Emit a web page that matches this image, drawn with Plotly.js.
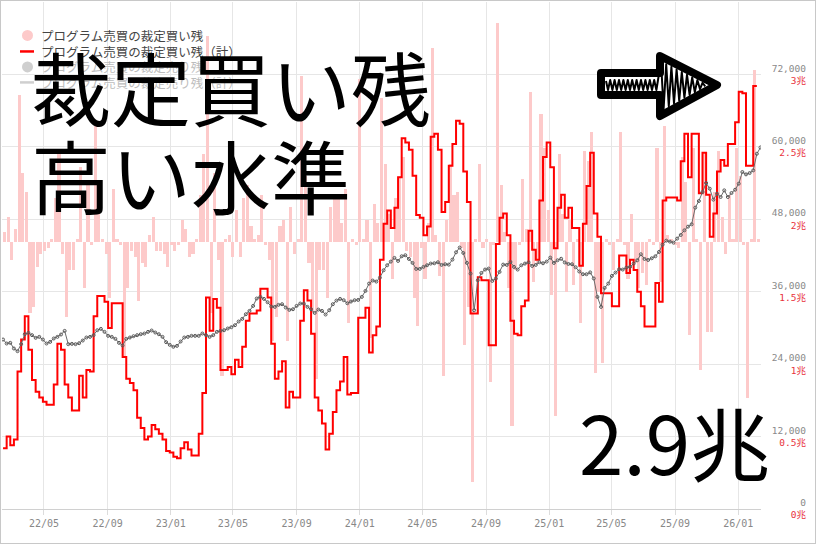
<!DOCTYPE html>
<html>
<head>
<meta charset="utf-8">
<script src="https://cdn.plot.ly/plotly-3.0.1.min.js"></script>
<style>
  html, body { margin: 0; padding: 0; background: #fff; }
  #wrap { position: relative; width: 816px; height: 544px; overflow: hidden; }
  #chart { position: absolute; left: 0; top: 0; width: 816px; height: 544px; }
  #arrow { position: absolute; left: 0; top: 0; pointer-events: none; }
  #frame { position: absolute; left: 0; top: 0; width: 816px; height: 544px;
           box-sizing: border-box; border: 1px solid #c8c8c8; pointer-events: none; }
</style>
</head>
<body>
<div id="wrap">
  <div id="chart"></div>
  <svg id="arrow" width="816" height="544"></svg>
  <div id="frame"></div>
</div>
<script>
// Weekly arbitrage buy balance (trillion yen), one value per week from 2022-02-11
const firstWeek = '2022-02-11';
const buyTotal = [
  0.42,0.50,0.44,0.48,0.95,1.17,1.33,1.10,0.89,0.81,
  0.77,0.74,0.72,0.72,0.86,1.14,1.10,0.86,0.77,0.68,
  0.68,0.92,0.77,0.96,0.95,1.33,1.47,1.47,1.43,1.25,
  1.42,1.42,1.42,1.05,0.90,0.87,0.82,0.63,0.56,0.48,
  0.50,0.58,0.55,0.52,0.48,0.40,0.39,0.36,0.35,0.42,
  0.46,0.41,0.37,0.37,0.52,0.80,1.46,1.23,1.45,1.39,
  0.96,0.96,0.98,0.93,1.03,0.98,1.12,1.30,1.35,1.35,
  1.37,1.52,1.52,1.46,1.14,0.90,0.95,1.02,0.70,0.81,
  0.77,0.77,1.30,1.51,1.44,1.21,0.77,0.68,0.59,0.41,
  0.52,0.67,0.82,0.88,1.05,0.79,0.80,0.80,1.32,1.32,
  1.39,1.08,1.20,1.26,1.72,1.97,2.06,1.94,2.08,2.29,
  2.56,2.53,2.48,2.30,2.03,2.01,1.89,1.95,2.57,2.59,
  2.48,2.05,2.12,2.37,2.52,2.68,2.66,2.33,2.12,1.35,
  1.35,1.60,1.58,1.58,1.13,1.13,1.83,2.01,2.04,1.89,
  1.30,1.21,1.20,1.40,1.44,1.92,1.79,1.72,2.13,2.43,
  2.53,2.36,1.80,2.08,2.17,2.01,2.08,1.94,1.94,1.68,
  1.97,2.23,2.46,2.04,1.88,1.49,1.49,1.49,1.40,1.40,
  1.75,1.75,1.63,1.72,1.65,1.50,1.40,1.26,1.26,1.26,
  1.56,1.43,2.13,2.15,2.15,2.15,2.13,2.40,2.59,2.29,
  2.59,2.59,2.18,2.46,2.17,1.88,2.04,2.33,2.41,2.37,
  2.52,2.52,2.67,2.88,2.87,2.37,2.37,2.92,2.92
];

// Week-on-week change of the buy balance (trillion yen)
const buyChange = [
  0.03,0.08,-0.06,0.04,0.47,0.22,0.16,-0.23,-0.21,-0.08,
  -0.04,-0.03,-0.02,0.01,0.14,0.28,-0.04,-0.24,-0.09,-0.09,
  0.01,0.24,-0.15,0.19,-0.01,0.38,0.14,0.01,-0.04,-0.18,
  0.17,0.01,-0.01,-0.37,-0.15,-0.03,-0.05,-0.19,-0.07,-0.08,
  0.02,0.08,-0.03,-0.03,-0.04,-0.08,-0.01,-0.03,-0.01,0.07,
  0.04,-0.05,-0.04,0.01,0.15,0.28,0.66,-0.23,0.22,-0.06,
  -0.43,0.01,0.02,-0.05,0.10,-0.05,0.14,0.18,0.05,0.01,
  0.02,0.15,-0.01,-0.06,-0.32,-0.24,0.05,0.07,-0.32,0.11,
  -0.04,0.01,0.53,0.21,-0.07,-0.23,-0.44,-0.09,-0.09,-0.18,
  0.11,0.15,0.15,0.06,0.17,-0.26,0.01,-0.01,0.52,0.01,
  0.07,-0.31,0.12,0.06,0.46,0.25,0.09,-0.12,0.14,0.21,
  0.27,-0.03,-0.05,-0.18,-0.27,-0.02,-0.12,0.06,0.62,0.02,
  -0.11,-0.43,0.07,0.25,0.15,0.16,-0.02,-0.33,-0.21,-0.77,
  0.01,0.25,-0.02,0.01,-0.45,-0.01,0.70,0.18,0.03,-0.15,
  -0.59,-0.09,-0.01,0.20,0.04,0.48,-0.13,-0.07,0.41,0.30,
  0.10,-0.17,-0.56,0.28,0.09,-0.16,0.07,-0.14,0.01,-0.26,
  0.29,0.26,0.35,-0.42,-0.16,-0.39,0.01,-0.01,-0.09,0.01,
  0.35,-0.01,-0.12,0.09,-0.07,-0.15,-0.10,-0.14,0.01,-0.01,
  0.30,-0.13,0.37,0.02,0.01,-0.01,-0.02,0.27,0.19,-0.30,
  0.30,0.01,-0.41,0.28,-0.29,-0.29,0.16,0.29,0.08,-0.04,
  0.15,0.01,0.30,0.21,-0.01,-0.50,0.01,0.55,0.01
];

// Nikkei 225, weekly closes (yen)
const nikkei = [
  28080,27420,27530,26590,26150,27310,28960,29180,28800,28360,
  28520,28080,27420,27690,28250,28520,28910,29510,27310,27360,
  27310,27470,27910,28410,28520,28800,29620,29840,29350,28690,
  28520,28190,27530,27090,28190,28410,28630,28800,28960,29070,
  29350,29570,29240,28960,28520,27640,27200,26870,27030,27750,
  28410,28520,28690,28690,28690,29070,28800,28520,28800,29350,
  29510,29620,29900,30120,30450,31060,31500,32270,32820,33650,
  34870,35140,34810,34260,33540,33490,33820,33930,33380,32990,
  33100,33650,34040,34040,33490,33100,32490,33040,32820,32220,
  32930,33930,34530,34810,34590,34090,34370,34590,34640,35140,
  36130,37350,37850,37680,38340,39550,40380,40990,41600,41100,
  41870,42040,41430,40770,39780,39780,40110,40380,40660,40710,
  40880,40440,40550,40490,41320,42530,43310,42420,40770,39000,
  32930,37900,39110,39670,39830,37790,38180,39280,40490,40440,
  40930,40110,39670,40380,40660,40880,40270,40440,40880,40710,
  40990,41650,40770,41210,41460,40850,40600,40550,40050,39350,
  38900,38900,39200,38200,35140,33490,36630,37350,38620,39170,
  39720,39670,40000,40110,40660,41210,42200,41430,41260,41540,
  41870,42590,43800,44460,44300,44130,44800,45400,46170,46780,
  47170,49930,51030,52520,54010,53070,51250,52240,51690,52790,
  51690,52350,52900,53900,55830,55440,55660,56100,58860,59900
];

// Right-hand scale: index level and the matching balance in trillion yen
const indexTicks = [0, 12000, 24000, 36000, 48000, 60000, 72000];
const choTicks   = ['0', '0.5', '1', '1.5', '2', '2.5', '3'];

// legend entries: the sell-side series are switched off and shown faded
const seriesNames = [
  'プログラム売買の裁定買い残',
  'プログラム売買の裁定買い残（計）',
  'プログラム売買の裁定売り残',
  'プログラム売買の裁定売り残（計）'
];
const seriesKinds  = ['dot', 'line', 'dot', 'line'];
const seriesColors = ['#fdcaca', '#ff0000', '#cfcfcf', '#cfcfcf'];
const seriesText   = ['#444444', '#444444', '#bdbdbd', '#bdbdbd'];

// weekly date grid
function weekDates(n) {
  const out = [];
  const t0 = Date.parse(firstWeek + 'T00:00:00Z');
  for (let i = 0; i < n; i++) {
    out.push(new Date(t0 + i * 7 * 864e5).toISOString().slice(0, 10));
  }
  return out;
}
const buyDates = weekDates(buyTotal.length);
const idxDates = weekDates(nikkei.length);

// page geometry (pixels)
const W = 816, H = 544;
const M = { l: 2, r: 10, t: 1.5, b: 35 };
const plotRight = 761;
const paperW = W - M.l - M.r, paperH = H - M.t - M.b;
const px = x => (x - M.l) / paperW;
const py = y => (H - M.b - y) / paperH;

const monoFont = 'DejaVu Sans Mono, Noto Sans CJK JP, monospace';
const jpFont = 'Noto Sans CJK JP, Noto Sans, sans-serif';

const tickText = indexTicks.map((v, k) =>
  v.toLocaleString('en-US') + '<br><span style="color:#e8323c">' + choTicks[k] + '兆</span>');

const traces = [
  { type: 'bar', x: buyDates, y: buyChange, name: seriesNames[0],
    offset: 0, width: 7 * 864e5 * 0.86,
    marker: { color: '#fdcaca', line: { width: 0 } }, hoverinfo: 'skip' },
  { type: 'scatter', mode: 'lines', x: buyDates, y: buyTotal, yaxis: 'y2', name: seriesNames[1],
    line: { color: '#ff0000', width: 2, shape: 'hv' }, hoverinfo: 'skip' },
  { type: 'scatter', mode: 'lines+markers', x: idxDates, y: nikkei, yaxis: 'y3', name: '日経平均',
    line: { color: '#6a6a6a', width: 1 },
    marker: { symbol: 'circle-open', size: 3, color: '#5a5a5a', line: { width: 1 } },
    hoverinfo: 'skip' }
];

// compact legend in the top-left corner
const legendRowY = [35, 51, 66.5, 82];
const legendShapes = [];
const legendNotes = [];
seriesNames.forEach((name, k) => {
  const yc = legendRowY[k];
  if (seriesKinds[k] === 'dot') {
    legendShapes.push({ type: 'circle', xref: 'paper', yref: 'paper',
      x0: px(22), x1: px(33), y0: py(yc + 5.5), y1: py(yc - 5.5),
      fillcolor: seriesColors[k], line: { width: 0 } });
  } else {
    legendShapes.push({ type: 'line', xref: 'paper', yref: 'paper',
      x0: px(20), x1: px(34), y0: py(yc), y1: py(yc),
      line: { color: seriesColors[k], width: 2.5 } });
  }
  legendNotes.push({ xref: 'paper', yref: 'paper', x: px(39), y: py(yc),
    xanchor: 'left', yanchor: 'middle', showarrow: false, text: name,
    font: { family: jpFont, size: 12.5, color: seriesText[k] } });
});

const layout = {
  width: W, height: H,
  margin: M,
  paper_bgcolor: '#ffffff', plot_bgcolor: '#ffffff',
  showlegend: false,
  bargap: 0,
  xaxis: {
    domain: [0, (plotRight - M.l) / paperW],
    type: 'date',
    range: ['2022-02-09', '2026-02-14'],
    tick0: '2022-01-01', dtick: 'M4', tickformat: '%y/%m',
    showgrid: true, gridcolor: '#e6e6e6', gridwidth: 1,
    showline: true, linecolor: '#d0d0d0', linewidth: 1,
    ticks: 'outside', ticklen: 5, tickcolor: '#dcdcdc',
    tickfont: { family: monoFont, size: 10, color: '#888888' },
    zeroline: false, fixedrange: true
  },
  yaxis: { range: [-0.857, 0.768], visible: false, fixedrange: true },
  yaxis2: { overlaying: 'y', range: [0, 3.5], visible: false, fixedrange: true },
  yaxis3: {
    overlaying: 'y', anchor: 'free', position: 1, side: 'left',
    range: [0, 84000],
    tickmode: 'array', tickvals: indexTicks, ticktext: tickText,
    showgrid: true, gridcolor: '#e6e6e6', gridwidth: 1,
    zeroline: false, showline: false, ticks: '',
    tickfont: { family: monoFont, size: 9.5, color: '#8a8a8a' },
    fixedrange: true
  },
  shapes: legendShapes,
  annotations: legendNotes.concat([
    { xref: 'paper', yref: 'paper', x: px(29), y: py(85), xanchor: 'left', yanchor: 'middle',
      text: '裁定買い残', showarrow: false,
      font: { family: jpFont, size: 80, color: '#000000' } },
    { xref: 'paper', yref: 'paper', x: px(29), y: py(173), xanchor: 'left', yanchor: 'middle',
      text: '高い水準', showarrow: false,
      font: { family: jpFont, size: 80, color: '#000000' } },
    { xref: 'paper', yref: 'paper', x: px(772), y: py(440), xanchor: 'right', yanchor: 'middle',
      text: buyTotal[buyTotal.length - 1].toFixed(1) + '兆', showarrow: false,
      font: { family: jpFont, size: 80, color: '#000000' } }
  ])
};

Plotly.newPlot('chart', traces, layout, { displayModeBar: false, staticPlot: true });

// hand-drawn style arrow pointing right
(function drawArrow() {
  const svg = document.getElementById('arrow');
  const ns = 'http://www.w3.org/2000/svg';
  const g = document.createElementNS(ns, 'g');
  const outline = 'M601,73 L660,73 L660,56 L717,85 L660,116 L660,95 L601,95 Z';
  const back = document.createElementNS(ns, 'path');
  back.setAttribute('d', outline);
  back.setAttribute('fill', '#ffffff');
  g.appendChild(back);

  // scribble inside the shaft
  let d = 'M606,81';
  let up = false;
  for (let x = 608; x <= 658; x += 2.2) {
    d += ' L' + x.toFixed(1) + ',' + (up ? 80 : 90);
    up = !up;
  }
  // scribble inside the head
  const topY = x => 56 + (x - 660) * 29 / 57;
  const botY = x => 116 - (x - 660) * 31 / 57;
  for (let x = 661; x <= 706; x += 2.6) {
    d += ' L' + x.toFixed(1) + ',' + (up ? topY(x) + 5 : botY(x) - 5).toFixed(1);
    up = !up;
  }
  const scr = document.createElementNS(ns, 'path');
  scr.setAttribute('d', d);
  scr.setAttribute('fill', 'none');
  scr.setAttribute('stroke', '#000');
  scr.setAttribute('stroke-width', '2');
  scr.setAttribute('stroke-linejoin', 'round');
  g.appendChild(scr);

  const edge = document.createElementNS(ns, 'path');
  edge.setAttribute('d', outline);
  edge.setAttribute('fill', 'none');
  edge.setAttribute('stroke', '#000');
  edge.setAttribute('stroke-width', '8');
  edge.setAttribute('stroke-linejoin', 'round');
  g.appendChild(edge);
  svg.appendChild(g);
})();
</script>
</body>
</html>
